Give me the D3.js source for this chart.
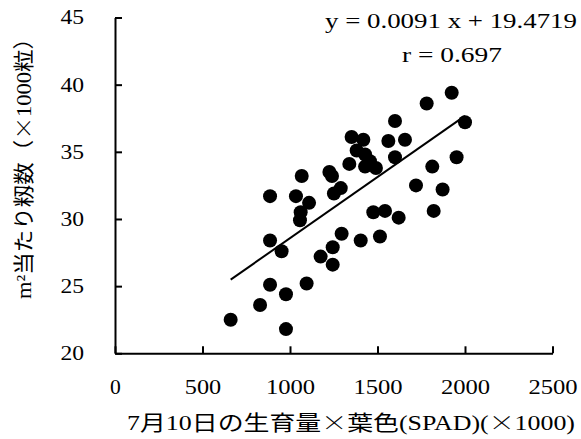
<!DOCTYPE html>
<html>
<head>
<meta charset="utf-8">
<script src="https://cdn.jsdelivr.net/npm/d3@7"></script>
<style>
  body { margin: 0; background: #fff; }
  svg text { font-family: "Liberation Serif", "Noto Sans CJK JP", serif; fill: #000; }
  .cjk { font-family: "Noto Sans CJK JP", sans-serif; font-weight: 300; }
</style>
</head>
<body>
<div class="chart"></div>
<script>
// growth x leaf colour on 10 July (x1000)
var growthSpad = [661, 977, 829, 886, 977, 1095, 886, 952, 886, 1034, 1109, 1061, 1057, 1067,
  1295, 1244, 1175, 1244, 1225, 1240, 1251, 1290, 1924, 1781, 2000, 1600, 1352, 1419, 1562,
  1657, 1381, 1429, 1600, 1339, 1429, 1491, 1457, 1813, 1952, 1720, 1872, 1821, 1476, 1543,
  1621, 1404, 1514];
// spikelets per m2 (x1000)
var spikelets = [22.5, 21.8, 23.6, 25.1, 24.4, 25.2, 28.4, 27.6, 31.7, 31.7, 31.2, 30.5, 29.9, 33.2,
  28.9, 27.9, 27.2, 26.6, 33.5, 33.2, 31.9, 32.3, 39.4, 38.6, 37.2, 37.3, 36.1, 35.9, 35.8,
  35.9, 35.1, 34.8, 34.6, 34.1, 33.9, 33.8, 34.3, 33.9, 34.6, 32.5, 32.2, 30.6, 30.5, 30.6,
  30.1, 28.4, 28.7];

var xTicks = [0, 500, 1000, 1500, 2000, 2500];
var yTicks = [20, 25, 30, 35, 40, 45];

var slope = 0.0091, intercept = 19.4719;
var eqLabel = "y = 0.0091 x + 19.4719";
var rLabel = "r = 0.697";

// title pieces; the "×" signs are set in the CJK font so they are full width
var xTitleParts = [["7月10日の生育量", false], ["×", true], ["葉色(SPAD)(", false], ["×", true], ["1000)", false]];
var yTitleParts = [["m²当たり籾数（", false], ["×", true], ["1000粒）", false]];

var svgWidth = 581, svgHeight = 439;
var margin = { top: 17.5, left: 115, right: 28.5, bottom: 85.7 };
var width = svgWidth - margin.left - margin.right;
var height = svgHeight - margin.top - margin.bottom;

var svg = d3.select(".chart").append("svg")
  .attr("width", svgWidth)
  .attr("height", svgHeight);

var chartGroup = svg.append("g")
  .attr("transform", `translate(${margin.left}, ${margin.top})`);

var xScale = d3.scaleLinear().domain([0, 2500]).range([0, width]);
var yScale = d3.scaleLinear().domain([20, 45]).range([height, 0]);

var xAxis = d3.axisBottom(xScale).tickValues(xTicks).tickFormat(d3.format("d"))
  .tickSize(-7).tickPadding(26.5).tickSizeOuter(0);
var yAxis = d3.axisLeft(yScale).tickValues(yTicks).tickFormat(d3.format("d"))
  .tickSize(-7).tickPadding(31).tickSizeOuter(0);

var gx = chartGroup.append("g")
  .attr("transform", `translate(0, ${height})`)
  .call(xAxis);
var gy = chartGroup.append("g").call(yAxis);

[gx, gy].forEach(function(g) {
  g.selectAll("path, line").attr("stroke", "#000").attr("stroke-width", 2);
  // the digits in the original are wide, so stretch each label
  g.selectAll("text")
    .attr("font-size", "20px")
    .attr("font-family", "Liberation Serif, serif")
    .attr("textLength", d => String(d).length * 12.8 - 2)
    .attr("lengthAdjust", "spacingAndGlyphs");
});

// points
chartGroup.selectAll("circle")
  .data(growthSpad)
  .enter()
  .append("circle")
  .attr("cx", d => xScale(d))
  .attr("cy", (d, i) => yScale(spikelets[i]))
  .attr("r", 7)
  .attr("fill", "#000");

// regression line over the data range
var xr = d3.extent(growthSpad);
chartGroup.append("line")
  .attr("x1", xScale(xr[0]))
  .attr("y1", yScale(slope * xr[0] + intercept))
  .attr("x2", xScale(xr[1]))
  .attr("y2", yScale(slope * xr[1] + intercept))
  .attr("stroke", "#000")
  .attr("stroke-width", 2);

// equation text
svg.append("text")
  .attr("x", 325).attr("y", 28)
  .attr("font-size", "20px")
  .attr("textLength", 252)
  .attr("lengthAdjust", "spacingAndGlyphs")
  .text(eqLabel);
svg.append("text")
  .attr("x", 402).attr("y", 62)
  .attr("font-size", "20px")
  .attr("textLength", 100)
  .attr("lengthAdjust", "spacingAndGlyphs")
  .text(rLabel);

// axis titles
function addParts(sel, parts) {
  parts.forEach(function(p) {
    var t = sel.append("tspan").text(p[0]);
    if (p[1]) t.attr("class", "cjk");
  });
}

var xTitle = svg.append("text")
  .attr("x", 127).attr("y", 430)
  .attr("font-size", "21px")
  .attr("textLength", 448)
  .attr("lengthAdjust", "spacingAndGlyphs");
addParts(xTitle, xTitleParts);

var yTitle = svg.append("text")
  .attr("transform", "translate(31, 163) rotate(-90)")
  .attr("text-anchor", "middle")
  .attr("font-size", "21px")
  .attr("textLength", 272)
  .attr("lengthAdjust", "spacingAndGlyphs");
addParts(yTitle, yTitleParts);
</script>
</body>
</html>
